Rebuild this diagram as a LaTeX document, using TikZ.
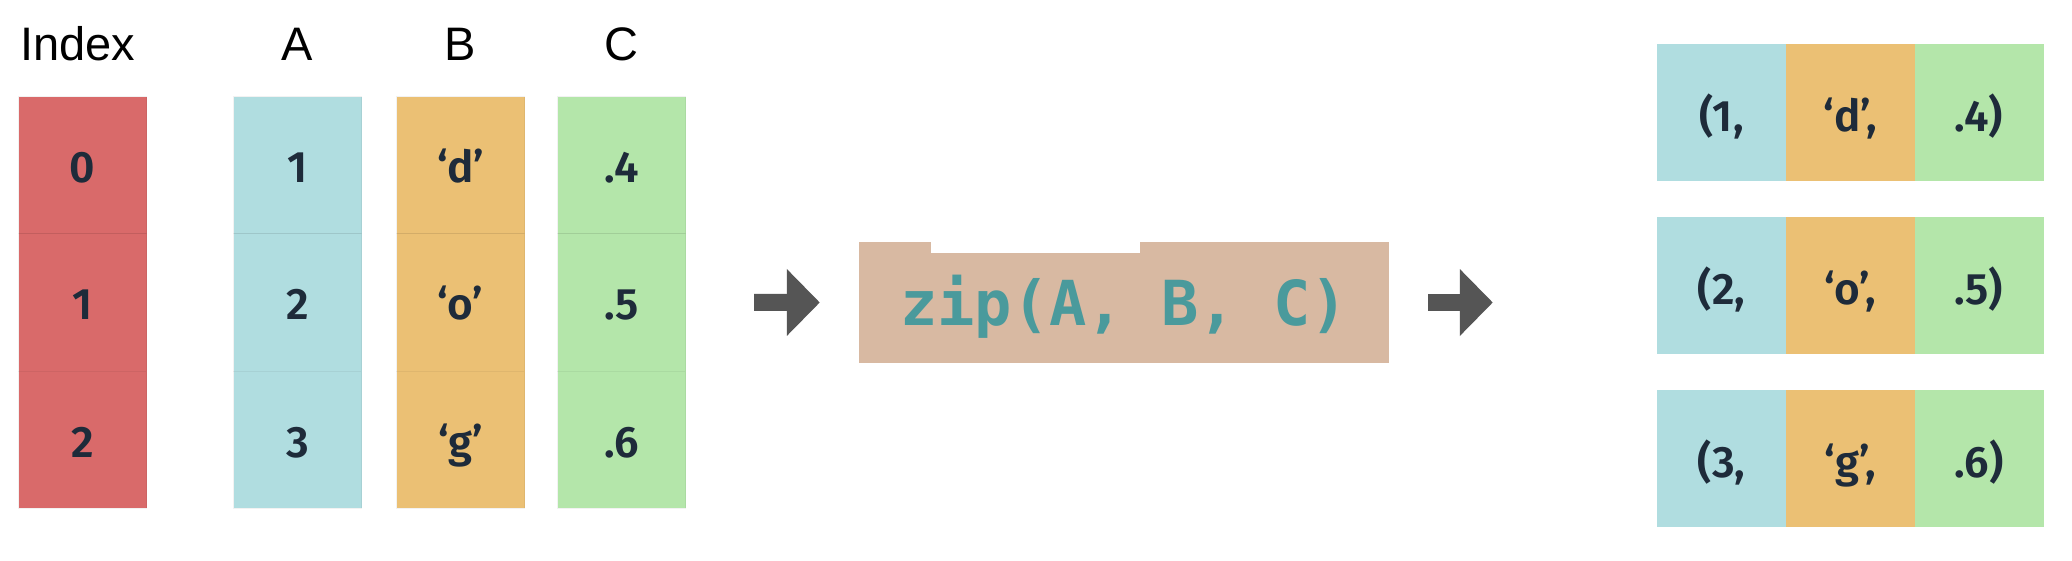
\documentclass[tikz,border=0pt]{standalone}
\usepackage{fontspec}
\usetikzlibrary{arrows.meta}
\newfontfamily\headfont{Liberation Sans}
\newfontfamily\valfont{Fira Sans SemiBold}
\newfontfamily\codefont{DejaVu Sans Mono}
\definecolor{idxred}{HTML}{D96A6A}
\definecolor{colA}{HTML}{B0DDE0}
\definecolor{colB}{HTML}{EBC074}
\definecolor{colC}{HTML}{B4E6AA}
\definecolor{zipbg}{HTML}{D8B9A2}
\definecolor{ziptext}{HTML}{4A9A9C}
\definecolor{arrowgray}{HTML}{555555}
\definecolor{valtext}{HTML}{1E2B3A}
\tikzset{
  cell/.style={minimum width=128pt, minimum height=137.3pt, inner sep=0pt,
    text height=35pt, text depth=0pt, text=valtext,
    font=\valfont\fontsize{44}{50}\selectfont,
    draw=black, draw opacity=0.05, line width=1pt},
  tcell/.style={minimum width=129pt, minimum height=137pt, inner sep=0pt,
    text height=38pt, text depth=0pt, text=valtext,
    font=\valfont\fontsize{44}{50}\selectfont},
  header/.style={font=\headfont\fontsize{47}{56}\selectfont, anchor=base, inner sep=0pt},
  zipbox/.style={fill=zipbg, minimum width=530pt, minimum height=121pt, inner sep=0pt,
    text height=45pt, text depth=0pt, text=ziptext,
    font=\codefont\bfseries\fontsize{62}{70}\selectfont},
  bigarrow/.style={draw=arrowgray, line width=17pt, -{Triangle[length=33pt,width=65pt]}}
}
\begin{document}
\begin{tikzpicture}[x=1pt,y=-1pt]
\useasboundingbox (0,0) rectangle (2072,560);
\fill[white] (0,0) rectangle (2072,560);
% headers
\node[header] (hidx) at (78,60) {Index};
\node[header] (hA) at (297,60) {A};
\node[header] (hB) at (460,60) {B};
\node[header] (hC) at (621,60) {C};
% index column
\node[cell, fill=idxred] (i0) at (82.5,165.15) {0};
\node[cell, fill=idxred] (i1) at (82.5,302.45) {1};
\node[cell, fill=idxred] (i2) at (82.5,439.75) {2};
% A column
\node[cell, fill=colA] (a0) at (297.5,165.15) {1};
\node[cell, fill=colA] (a1) at (297.5,302.45) {2};
\node[cell, fill=colA] (a2) at (297.5,439.75) {3};
% B column
\node[cell, fill=colB] (b0) at (460.5,165.15) {‘d’};
\node[cell, fill=colB] (b1) at (460.5,302.45) {‘o’};
\node[cell, fill=colB] (b2) at (460.5,439.75) {‘g’};
% C column
\node[cell, fill=colC] (c0) at (621.5,165.15) {.4};
\node[cell, fill=colC] (c1) at (621.5,302.45) {.5};
\node[cell, fill=colC] (c2) at (621.5,439.75) {.6};
% zip box
\node[zipbox] (zip) at (1124,302.5) {zip(A, B, C)};
\fill[white] (931,241) rectangle (1140,253);
% tuples
\node[tcell, fill=colA] (t0a) at (1721.5,112) {(1,};
\node[tcell, fill=colB] (t0b) at (1850.5,112) {‘d’,};
\node[tcell, fill=colC] (t0c) at (1979,112) {.4)};
\node[tcell, fill=colA] (t1a) at (1721.5,285.5) {(2,};
\node[tcell, fill=colB] (t1b) at (1850.5,285.5) {‘o’,};
\node[tcell, fill=colC] (t1c) at (1979,285.5) {.5)};
\node[tcell, fill=colA] (t2a) at (1721.5,458) {(3,};
\node[tcell, fill=colB] (t2b) at (1850.5,458) {‘g’,};
\node[tcell, fill=colC] (t2c) at (1979,458) {.6)};
% arrows
\draw[bigarrow, shorten <=68pt, shorten >=39pt] (c1.east) -- (zip.west);
\coordinate (a2end) at (zip.east -| t1a.west);
\draw[bigarrow, shorten <=39pt, shorten >=164pt] (zip.east) -- (a2end);
\end{tikzpicture}
\end{document}
